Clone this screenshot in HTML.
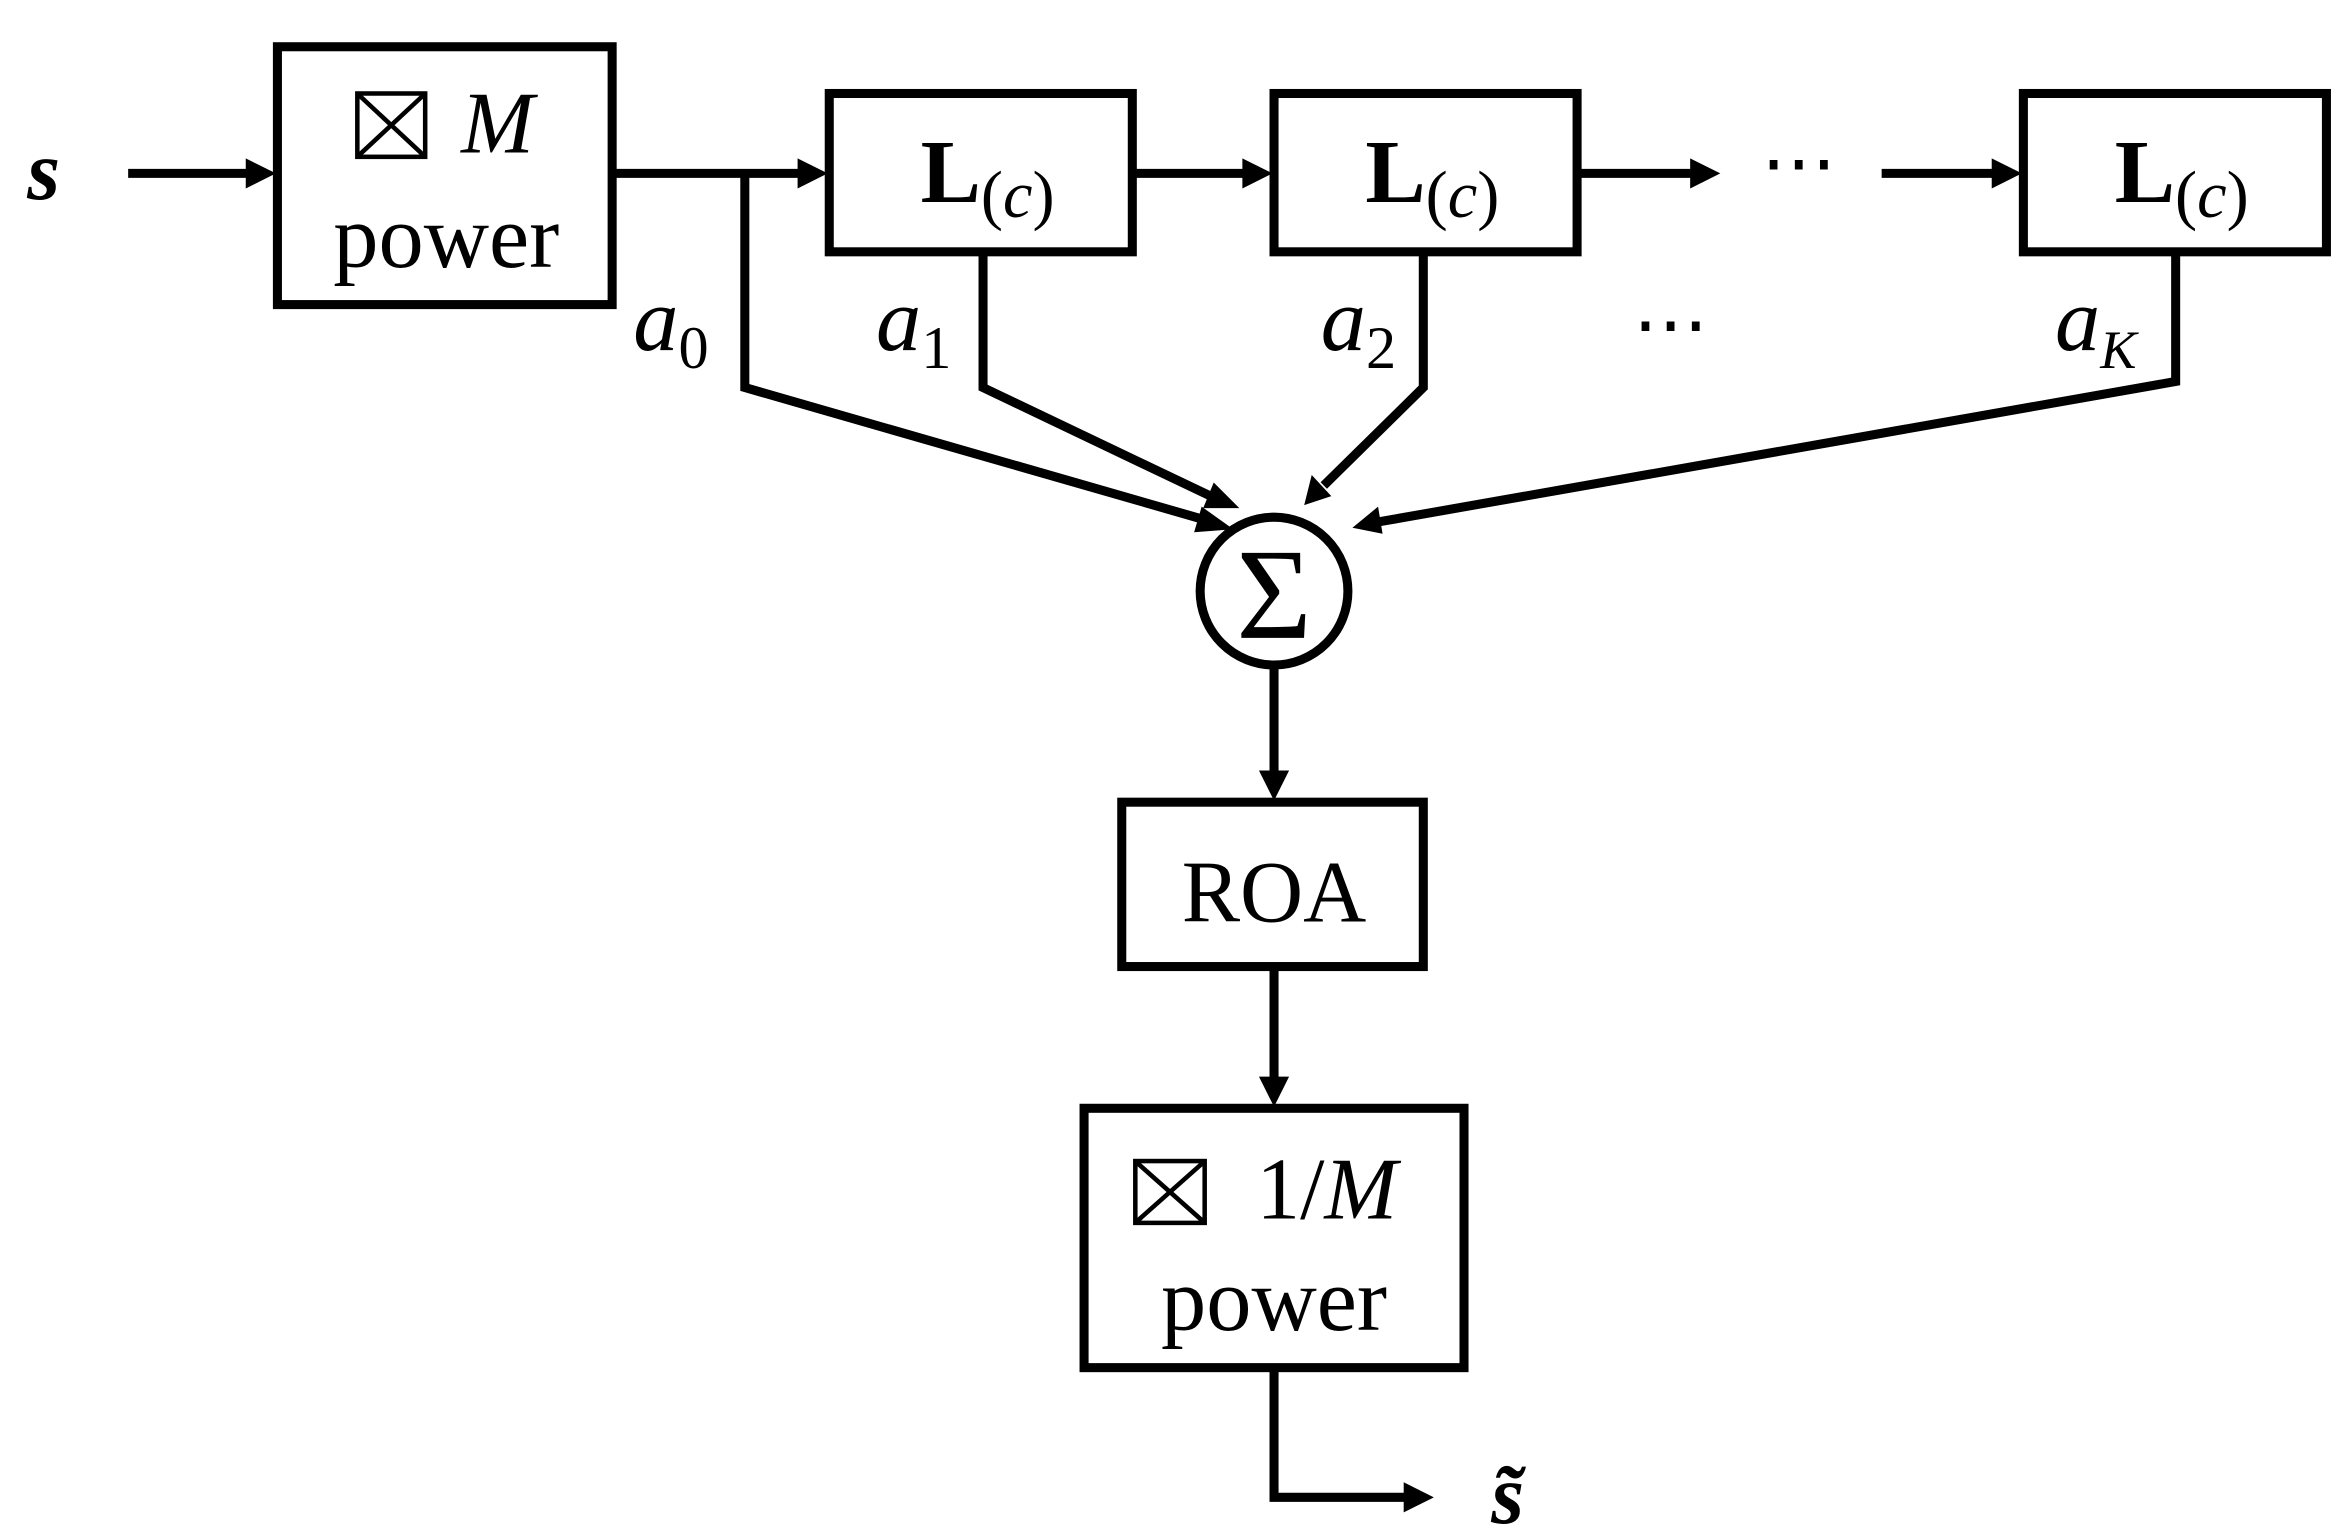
<!DOCTYPE html>
<html><head><style>html,body{margin:0;padding:0;background:#fff;}svg{display:block}</style></head>
<body>
<svg width="2340" height="1532" viewBox="0 0 1552 1016" preserveAspectRatio="none" xmlns="http://www.w3.org/2000/svg">
<g fill="none" stroke="#000" stroke-width="6">
<rect x="184" y="31" width="222" height="171"/>
<rect x="550" y="62" width="201" height="105"/>
<rect x="845" y="62" width="201" height="105"/>
<rect x="1342" y="62" width="201" height="105"/>
<rect x="744" y="532" width="200" height="109"/>
<rect x="719" y="735" width="252" height="172"/>
<circle cx="845" cy="392" r="49"/>
<line x1="85" y1="115" x2="165" y2="115"/>
<line x1="406" y1="115" x2="532" y2="115"/>
<line x1="751" y1="115" x2="827" y2="115"/>
<line x1="1046" y1="115" x2="1124" y2="115"/>
<line x1="1248" y1="115" x2="1324" y2="115"/>
<polyline points="494,115 494,257 800,345"/>
<polyline points="652,167 652,257 805,330"/>
<polyline points="944,167 944,257 878,322"/>
<polyline points="1443,167 1443,253 915,346"/>
<line x1="845" y1="441" x2="845" y2="514"/>
<line x1="845" y1="641" x2="845" y2="717"/>
<polyline points="845,907 845,993 932,993"/>
</g>
<g fill="#000">
<polygon points="183,115 163,105 163,125"/>
<polygon points="549,115 529,105 529,125"/>
<polygon points="844,115 824,105 824,125"/>
<polygon points="1141,115 1121,105 1121,125"/>
<polygon points="1341,115 1321,105 1321,125"/>
<polygon points="845,531 835,511 855,511"/>
<polygon points="845,734 835,714 855,714"/>
<polygon points="951,993 931,983 931,1003"/>
<polygon points="818,351 797,336 792,353"/>
<polygon points="822,337 805,320 798,337"/>
<polygon points="865,335 870,315 883,329"/>
<polygon points="897,350 914,336 917,354"/>
</g>
<g fill="none" stroke="#000" stroke-width="3">
<rect x="237" y="62" width="45" height="42"/>
<line x1="238" y1="63" x2="281" y2="103"/>
<line x1="281" y1="63" x2="238" y2="103"/>
<rect x="753" y="770" width="46" height="41"/>
<line x1="754" y1="771" x2="798" y2="810"/>
<line x1="798" y1="771" x2="754" y2="810"/>
</g>
<g font-family="Liberation Serif, serif" fill="#000" text-anchor="middle">
<text x="29" y="132" font-size="56" font-weight="bold" font-style="italic">s</text>
<text x="330" y="101" font-size="58" font-style="italic">M</text>
<text x="296" y="177" font-size="60">power</text>
<text x="655" y="134" font-size="60" font-weight="bold">L<tspan font-size="44" font-weight="normal" dy="10">(</tspan><tspan font-size="44" font-style="italic" font-weight="normal">c</tspan><tspan font-size="44" font-weight="normal">)</tspan></text>
<text x="950" y="134" font-size="60" font-weight="bold">L<tspan font-size="44" font-weight="normal" dy="10">(</tspan><tspan font-size="44" font-style="italic" font-weight="normal">c</tspan><tspan font-size="44" font-weight="normal">)</tspan></text>
<text x="1447" y="134" font-size="60" font-weight="bold">L<tspan font-size="44" font-weight="normal" dy="10">(</tspan><tspan font-size="44" font-style="italic" font-weight="normal">c</tspan><tspan font-size="44" font-weight="normal">)</tspan></text>
<text x="1193" y="125" font-size="50">⋯</text>
<text x="1108" y="232" font-size="50">⋯</text>
<text x="445" y="232" font-size="60" font-style="italic">a<tspan font-size="40" font-style="normal" dy="12">0</tspan></text>
<text x="606" y="232" font-size="60" font-style="italic">a<tspan font-size="40" font-style="normal" dy="12">1</tspan></text>
<text x="901" y="232" font-size="60" font-style="italic">a<tspan font-size="40" font-style="normal" dy="12">2</tspan></text>
<text x="1390" y="232" font-size="60" font-style="italic">a<tspan font-size="36" font-style="italic" dy="12">K</tspan></text>
<text x="845" y="423" font-size="86">Σ</text>
<text x="845" y="611" font-size="58">ROA</text>
<text x="880" y="808" font-size="58">1/<tspan font-style="italic">M</tspan></text>
<text x="845" y="882" font-size="60">power</text>
<text x="1000" y="1010" font-size="56" font-weight="bold" font-style="italic">s̃</text>
</g>
</svg>
</body></html>
